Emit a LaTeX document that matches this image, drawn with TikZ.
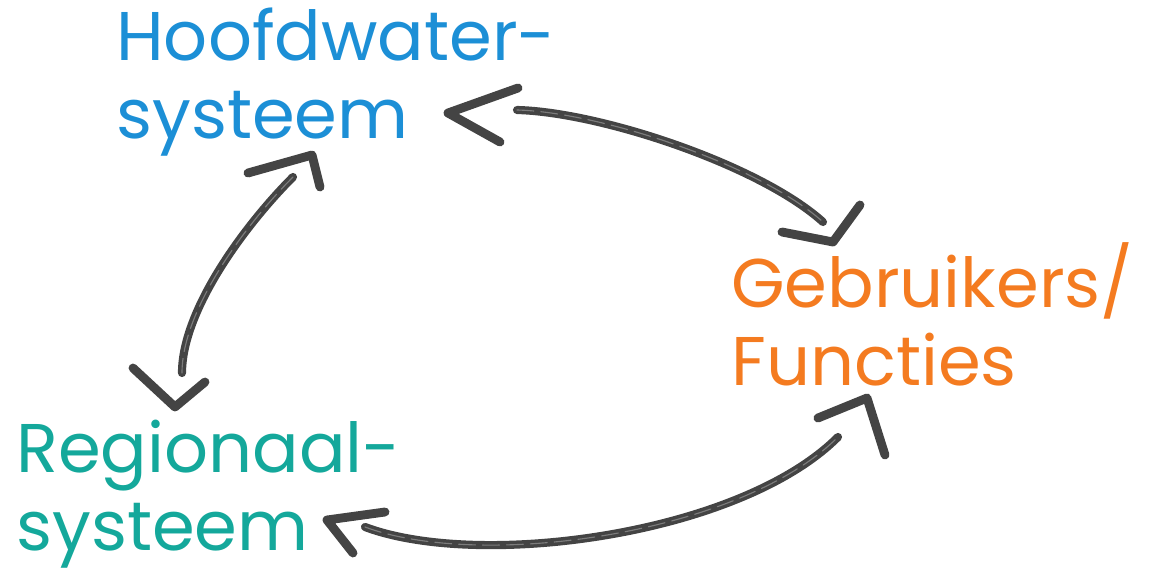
\documentclass[tikz,border=0pt]{standalone}
\usepackage{fontspec}
\setmainfont{Poppins}
\definecolor{hwblue}{HTML}{1C8FD6}
\definecolor{gforange}{HTML}{F47B20}
\definecolor{rsteal}{HTML}{14A89B}
\definecolor{chalk}{HTML}{444444}
\begin{document}
\begin{tikzpicture}[x=0.025cm,y=-0.025cm,
  label/.style={inner sep=0pt,anchor=base west,align=left,font=\fontsize{49}{54.8}\selectfont},
  shaft/.style={draw=chalk,line width=5.8pt,line cap=round},
  tex/.style={draw=white,opacity=0.3,line width=0.8pt,dash pattern=on 12pt off 5pt,line cap=round},
  barb/.style={draw=chalk,line width=6.3pt,line cap=round,line join=round}]
\useasboundingbox (0,0) rectangle (1173,572);
% labels (anchor = baseline of the last line)
\node[label,text=hwblue] (hws) at (116,138) {Hoofdwater-\\systeem};
\node[label,text=gforange] (geb) at (731,385) {Gebruikers/\\Functies};
\node[label,text=rsteal] (reg) at (16,550) {Regionaal-\\systeem};
% connector end points
\coordinate (a1) at (517,110);
\coordinate (a2) at (823,222);
\coordinate (b1) at (293,177);
\coordinate (b2) at (182,373);
\coordinate (c1) at (365,527);
\coordinate (c2) at (838,437);
% tip apexes
\coordinate (ta1) at (448,113);
\coordinate (ta2) at (833,242);
\coordinate (tb1) at (312,155);
\coordinate (tb2) at (175,407);
\coordinate (tc1) at (327,520);
\coordinate (tc2) at (867,398);
% Hoofdwatersysteem <-> Gebruikers/Functies
\draw[shaft] (a1) .. controls (600,112) and (760,165) .. (a2);
\draw[tex] (a1) .. controls (600,112) and (760,165) .. (a2);
\draw[barb] (518,88) -- (ta1) -- (500,142);
\draw[barb] (782,232) -- (ta2) -- (860,205);
% Hoofdwatersysteem <-> Regionaalsysteem
\draw[shaft] (b1) .. controls (245,225) and (182,310) .. (b2);
\draw[tex] (b1) .. controls (245,225) and (182,310) .. (b2);
\draw[barb] (248,173) -- (tb1) -- (320,187);
\draw[barb] (133,368) -- (tb2) -- (205,382);
% Regionaalsysteem <-> Gebruikers/Functies
\draw[shaft] (c1) .. controls (480,570) and (740,535) .. (c2);
\draw[tex] (c1) .. controls (480,570) and (740,535) .. (c2);
\draw[barb] (385,512) -- (tc1) -- (353,553);
\draw[barb] (818,418) -- (tc2) -- (885,455);
\end{tikzpicture}
\end{document}
